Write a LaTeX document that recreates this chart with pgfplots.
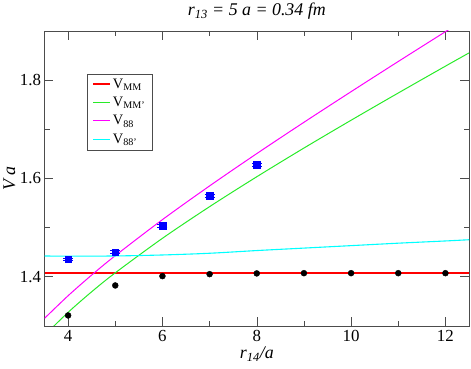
\documentclass[border=0pt]{standalone}
\usepackage{fontspec}
\setmainfont{Liberation Serif}
\usepackage{pgfplots}
\pgfplotsset{compat=1.18}

\definecolor{lnred}{rgb}{1,0,0}
\definecolor{lngreen}{RGB}{40,235,40}
\definecolor{lnmagenta}{RGB}{255,0,255}
\definecolor{lncyan}{RGB}{0,255,255}
\definecolor{ptblue}{RGB}{0,0,255}

\begin{document}
\begin{tikzpicture}
\begin{axis}[
    scale only axis,
    width=426bp, height=296bp,
    xmin=3.5, xmax=12.5,
    ymin=1.3, ymax=1.9,
    xtick={4,6,8,10,12},
    ytick={1.4,1.6,1.8},
    minor tick num=1,
    tick align=inside,
    major tick length=9bp,
    minor tick length=5bp,
    axis line style={gray!60!black},
    every tick/.style={gray!60!black},
    /pgf/number format/assume math mode=true,
    yticklabel style={/pgf/number format/.cd, fixed, fixed zerofill, precision=1},
    ticklabel style={font=\fontsize{17}{19}\selectfont},
    xticklabel style={yshift=-1bp},
    title={\itshape r\textsubscript{13} = 5 a = 0.34 fm},
    title style={at={(axis description cs:0.5,1)}, anchor=base, yshift=9bp,
        font=\fontsize{18}{20}\selectfont},
    xlabel={\itshape r\textsubscript{14}/a},
    xlabel style={at={(axis description cs:0.5,-0.111)}, anchor=base,
        font=\fontsize{18}{20}\selectfont},
    ylabel={\itshape V a},
    ylabel style={at={(axis description cs:-0.083,0.5)}, anchor=center,
        font=\fontsize{18}{20}\selectfont},
    legend style={at={(axis description cs:0.101,0.855)}, anchor=north west,
        draw=gray!60!black, font=\fontsize{14.5}{16}\selectfont,
        row sep=3.5bp, inner xsep=5bp, inner ysep=3bp},
    legend cell align=left,
    legend image code/.code={\draw[#1] (0bp,0bp) -- (17bp,0bp);},
]
% fits
\addplot[draw=lnred, line width=1.5bp, mark=none] table {
x y
3.5 1.407
12.5 1.407
};
\addlegendentry{V\textsubscript{MM}}
\addplot[draw=lngreen, line width=1bp, smooth] coordinates {
    (3.5,1.2806) (4,1.3273) (4.5,1.3692) (5,1.4077) (6,1.4779) (7,1.5423)
    (8,1.6031) (9,1.6615) (10,1.7181) (11,1.7735) (12,1.8281) (12.5,1.855)};
\addlegendentry{V\textsubscript{MM'}}
\addplot[draw=lnmagenta, line width=1bp, smooth] coordinates {
    (3.5,1.3151) (4,1.3611) (4.5,1.4032) (5,1.4426) (6,1.5159) (7,1.5845)
    (8,1.6502) (9,1.7139) (10,1.7762) (11,1.8376) (12,1.8982) (12.5,1.928)};
\addlegendentry{V\textsubscript{88}}
\addplot[draw=lncyan, line width=1.1bp, smooth] coordinates {
    (3.5,1.442) (4,1.4415) (5,1.442) (6,1.444) (7,1.4475) (8,1.453)
    (9,1.458) (10,1.463) (11,1.468) (12,1.4725) (12.5,1.475)};
\addlegendentry{V\textsubscript{88'}}
% lattice data
\addplot[only marks, mark=square*, mark size=3.3bp, color=ptblue, forget plot,
    error bars/.cd, y dir=both, y fixed=0.003,
    error bar style={color=ptblue, line width=0.8bp},
    error mark options={rotate=90, mark size=5bp, color=ptblue, line width=0.8bp}]
    coordinates {(4,1.435) (5,1.450) (6,1.503) (7,1.565) (8,1.628)};
\addplot[only marks, mark=*, mark size=3bp, color=black, forget plot]
    coordinates {(4,1.321) (5,1.382) (6,1.401) (7,1.405) (8,1.4065)
        (9,1.407) (10,1.407) (11,1.407) (12,1.407)};
\end{axis}
\path ([xshift=-43bp,yshift=-43bp]current axis.south west)
    rectangle ([xshift=2bp,yshift=29bp]current axis.north east);
\end{tikzpicture}
\end{document}
